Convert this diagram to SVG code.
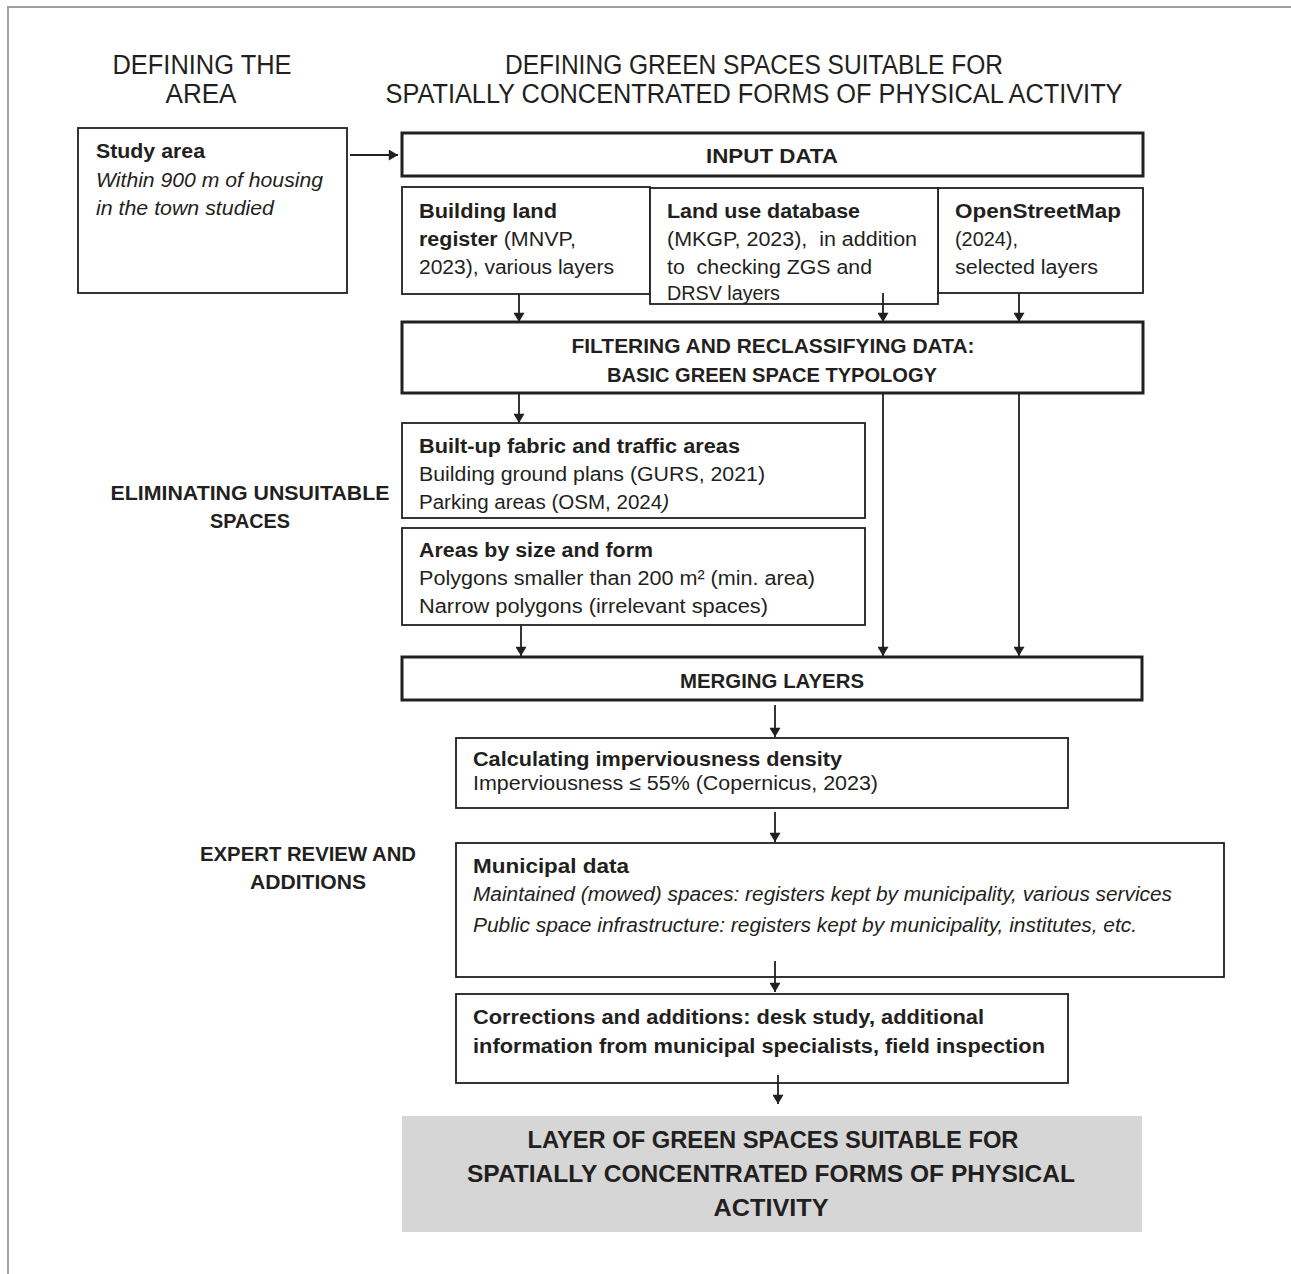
<svg xmlns="http://www.w3.org/2000/svg" width="1291" height="1274" viewBox="0 0 1291 1274">
<defs>
<marker id="ah" viewBox="0 0 10 12" refX="10" refY="6" markerWidth="12" markerHeight="11" markerUnits="userSpaceOnUse" orient="auto">
<path d="M0,0 L10,6 L0,12 z" fill="#231f20"/>
</marker>
<style>
text{font-family:"Liberation Sans",Arial,sans-serif;fill:#231f20;}
.hd{font-size:27px;text-anchor:middle;}
.b{font-size:20px;font-weight:bold;}
.r{font-size:20px;}
.i{font-size:20px;font-style:italic;}
.c{text-anchor:middle;}
.pre{white-space:pre;}
.thin{fill:#fff;stroke:#231f20;stroke-width:1.8;}
.thick{fill:#fff;stroke:#231f20;stroke-width:3;}
.con line{stroke:#231f20;stroke-width:1.8;}
.fin{font-size:24px;font-weight:bold;text-anchor:middle;}
</style>
</defs>
<rect width="1291" height="1274" fill="#fff"/>
<path d="M8,1274 L8,7 L1291,7" fill="none" stroke="#a0a0a0" stroke-width="2"/>

<g id="headers">
<text class="hd" x="202" y="74" textLength="179" lengthAdjust="spacingAndGlyphs">DEFINING THE</text>
<text class="hd" x="201" y="103" textLength="71" lengthAdjust="spacingAndGlyphs">AREA</text>
<text class="hd" x="754" y="74" textLength="498" lengthAdjust="spacingAndGlyphs">DEFINING GREEN SPACES SUITABLE FOR</text>
<text class="hd" x="754" y="103" textLength="737" lengthAdjust="spacingAndGlyphs">SPATIALLY CONCENTRATED FORMS OF PHYSICAL ACTIVITY</text>
</g>

<g id="study-area">
<rect class="thin" x="78" y="128" width="269" height="165"/>
<text class="b" x="96" y="158" textLength="109" lengthAdjust="spacingAndGlyphs">Study area</text>
<text class="i" x="96" y="187" textLength="227" lengthAdjust="spacingAndGlyphs">Within 900 m of housing</text>
<text class="i" x="96" y="215" textLength="178" lengthAdjust="spacingAndGlyphs">in the town studied</text>
</g>

<g id="input-data">
<rect class="thick" x="402" y="133" width="741" height="43"/>
<text class="b c" x="772" y="163" textLength="132" lengthAdjust="spacingAndGlyphs">INPUT DATA</text>
</g>

<g id="building-land-register">
<rect class="thin" x="402" y="187" width="248" height="107"/>
<text class="b" x="419" y="218" textLength="138" lengthAdjust="spacingAndGlyphs">Building land</text>
<text class="r" x="419" y="246" textLength="157" lengthAdjust="spacingAndGlyphs"><tspan font-weight="bold">register</tspan> (MNVP,</text>
<text class="r" x="419" y="274" textLength="195" lengthAdjust="spacingAndGlyphs">2023), various layers</text>
</g>

<g id="openstreetmap">
<rect class="thin" x="938" y="188" width="205" height="105"/>
<text class="b" x="955" y="218" textLength="166" lengthAdjust="spacingAndGlyphs">OpenStreetMap</text>
<text class="r" x="955" y="246" textLength="63" lengthAdjust="spacingAndGlyphs">(2024),</text>
<text class="r" x="955" y="274" textLength="143" lengthAdjust="spacingAndGlyphs">selected layers</text>
</g>

<g id="land-use-database">
<rect class="thin" x="650" y="188" width="288" height="116"/>
<text class="b" x="667" y="218" textLength="193" lengthAdjust="spacingAndGlyphs">Land use database</text>
<text class="r pre" x="667" y="246" textLength="250" lengthAdjust="spacingAndGlyphs">(MKGP, 2023),  in addition</text>
<text class="r pre" x="667" y="274" textLength="205" lengthAdjust="spacingAndGlyphs">to  checking ZGS and</text>
<text class="r" x="667" y="300" textLength="113" lengthAdjust="spacingAndGlyphs">DRSV layers</text>
</g>

<g id="filtering">
<rect class="thick" x="402" y="322" width="741" height="71"/>
<text class="b c" x="773" y="353" textLength="403" lengthAdjust="spacingAndGlyphs">FILTERING AND RECLASSIFYING DATA:</text>
<text class="b c" x="772" y="382" textLength="330" lengthAdjust="spacingAndGlyphs">BASIC GREEN SPACE TYPOLOGY</text>
</g>

<g id="eliminating-label">
<text class="b c" x="250" y="500" textLength="279" lengthAdjust="spacingAndGlyphs">ELIMINATING UNSUITABLE</text>
<text class="b c" x="250" y="528" textLength="80" lengthAdjust="spacingAndGlyphs">SPACES</text>
</g>

<g id="built-up">
<rect class="thin" x="402" y="423" width="463" height="95"/>
<text class="b" x="419" y="453" textLength="321" lengthAdjust="spacingAndGlyphs">Built-up fabric and traffic areas</text>
<text class="r" x="419" y="481" textLength="346" lengthAdjust="spacingAndGlyphs">Building ground plans (GURS, 2021)</text>
<text class="r" x="419" y="509" textLength="250" lengthAdjust="spacingAndGlyphs">Parking areas (OSM, 2024<tspan font-style="italic">)</tspan></text>
</g>

<g id="areas-by-size">
<rect class="thin" x="402" y="528" width="463" height="97"/>
<text class="b" x="419" y="557" textLength="234" lengthAdjust="spacingAndGlyphs">Areas by size and form</text>
<text class="r" x="419" y="585" textLength="396" lengthAdjust="spacingAndGlyphs">Polygons smaller than 200 m² (min. area)</text>
<text class="r" x="419" y="613" textLength="349" lengthAdjust="spacingAndGlyphs">Narrow polygons (irrelevant spaces)</text>
</g>

<g id="merging">
<rect class="thick" x="402" y="657" width="740" height="43"/>
<text class="b c" x="772" y="688" textLength="184" lengthAdjust="spacingAndGlyphs">MERGING LAYERS</text>
</g>

<g id="imperviousness">
<rect class="thin" x="456" y="738" width="612" height="70"/>
<text class="b" x="473" y="766" textLength="369" lengthAdjust="spacingAndGlyphs">Calculating imperviousness density</text>
<text class="r" x="473" y="790" textLength="405" lengthAdjust="spacingAndGlyphs">Imperviousness ≤ 55% (Copernicus, 2023)</text>
</g>

<g id="expert-label">
<text class="b c" x="308" y="861" textLength="216" lengthAdjust="spacingAndGlyphs">EXPERT REVIEW AND</text>
<text class="b c" x="308" y="889" textLength="116" lengthAdjust="spacingAndGlyphs">ADDITIONS</text>
</g>

<g id="municipal-data">
<rect class="thin" x="456" y="843" width="768" height="134"/>
<text class="b" x="473" y="873" textLength="156" lengthAdjust="spacingAndGlyphs">Municipal data</text>
<text class="i" x="473" y="901" textLength="699" lengthAdjust="spacingAndGlyphs">Maintained (mowed) spaces: registers kept by municipality, various services</text>
<text class="i" x="473" y="932" textLength="664" lengthAdjust="spacingAndGlyphs">Public space infrastructure: registers kept by municipality, institutes, etc.</text>
</g>

<g id="corrections">
<rect class="thin" x="456" y="994" width="612" height="89"/>
<text class="b" x="473" y="1024" textLength="511" lengthAdjust="spacingAndGlyphs">Corrections and additions: desk study, additional</text>
<text class="b" x="473" y="1053" textLength="572" lengthAdjust="spacingAndGlyphs">information from municipal specialists, field inspection</text>
</g>

<g id="final-layer">
<rect x="402" y="1116" width="740" height="116" fill="#d6d6d6"/>
<text class="fin" x="773" y="1148" textLength="491" lengthAdjust="spacingAndGlyphs">LAYER OF GREEN SPACES SUITABLE FOR</text>
<text class="fin" x="771" y="1182" textLength="608" lengthAdjust="spacingAndGlyphs">SPATIALLY CONCENTRATED FORMS OF PHYSICAL</text>
<text class="fin" x="771" y="1216" textLength="115" lengthAdjust="spacingAndGlyphs">ACTIVITY</text>
</g>

<g id="connectors" class="con">
<line x1="350" y1="155" x2="398" y2="155" marker-end="url(#ah)"/>
<line x1="519" y1="294" x2="519" y2="322" marker-end="url(#ah)"/>
<line x1="883" y1="293" x2="883" y2="322" marker-end="url(#ah)"/>
<line x1="1019" y1="293" x2="1019" y2="322" marker-end="url(#ah)"/>
<line x1="519" y1="393" x2="519" y2="423" marker-end="url(#ah)"/>
<line x1="883" y1="393" x2="883" y2="656" marker-end="url(#ah)"/>
<line x1="1019" y1="393" x2="1019" y2="656" marker-end="url(#ah)"/>
<line x1="521" y1="625" x2="521" y2="656" marker-end="url(#ah)"/>
<line x1="775" y1="705" x2="775" y2="737" marker-end="url(#ah)"/>
<line x1="775" y1="812" x2="775" y2="842" marker-end="url(#ah)"/>
<line x1="775" y1="961" x2="775" y2="992" marker-end="url(#ah)"/>
<line x1="778" y1="1075" x2="778" y2="1104" marker-end="url(#ah)"/>
</g>
</svg>
